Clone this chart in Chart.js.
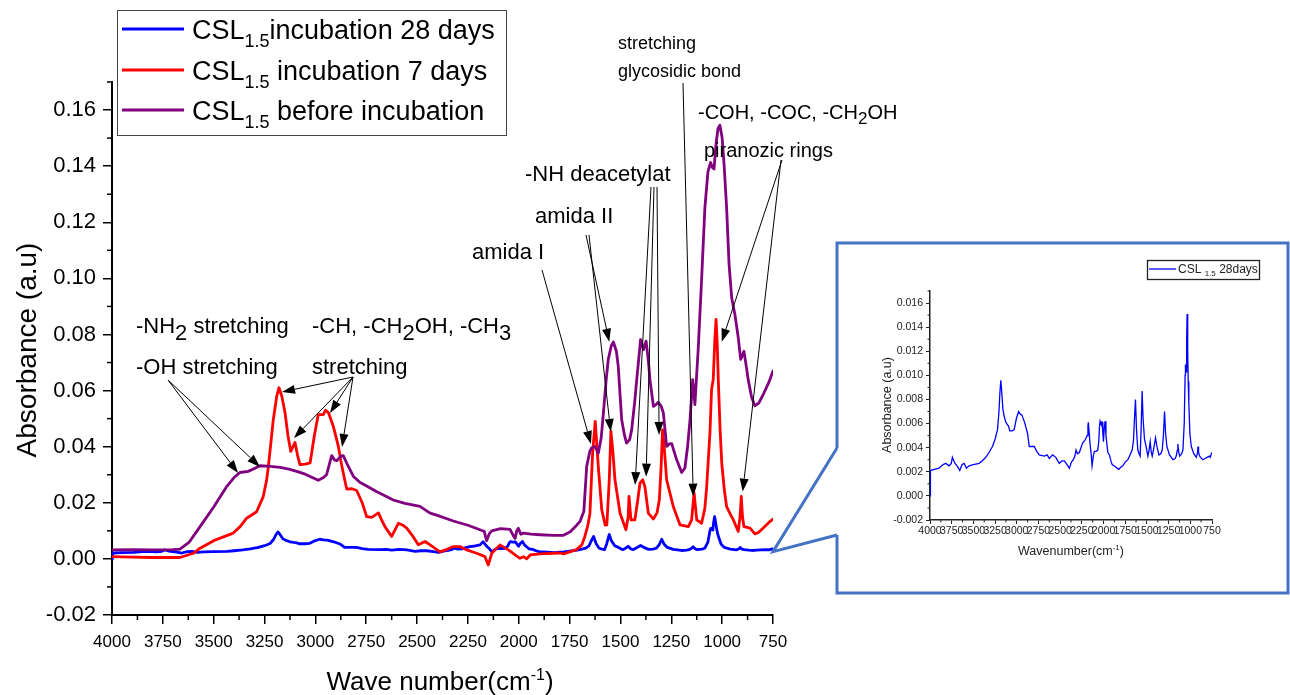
<!DOCTYPE html>
<html><head><meta charset="utf-8">
<script src="https://cdn.jsdelivr.net/npm/chart.js@4.4.1/dist/chart.umd.min.js"></script>
<style>
html,body{margin:0;padding:0;background:#fff;}
#wrap{position:relative;width:1290px;height:695px;overflow:hidden;background:#fff;}
#main{position:absolute;left:0;top:0;width:1290px;height:695px;}
#inset{position:absolute;left:839px;top:245px;width:447px;height:346px;}
</style></head><body>
<div id="wrap"><canvas id="main" width="1290" height="695"></canvas><canvas id="inset" width="447" height="346"></canvas></div>
<script>
// ---------------- DATA ----------------
const seriesNames = ['CSL_{1.5}incubation 28 days', 'CSL_{1.5} incubation 7 days', 'CSL_{1.5} before incubation'];
const insetName = 'CSL _{1.5} 28days';

// before incubation (purple)
const wn0 = [4000,3900,3800,3700,3666,3620,3567,3500,3436,3400,
 3371,3330,3300,3272,3220,3174,3130,3092,3050,3026,
 2986,2960,2945,2920,2905,2895,2875,2863,2845,2813,
 2780,2748,2700,2617,2560,2486,2436,2400,2322,2250,
 2191,2170,2158,2145,2133,2090,2043,2025,2018,2010,
 2002,1990,1977,1940,1895,1830,1780,1747,1714,1698,
 1680,1666,1650,1642,1625,1609,1595,1584,1570,1560,
 1545,1535,1520,1511,1494,1480,1470,1455,1445,1430,
 1420,1401,1387,1374,1362,1355,1338,1325,1314,1300,
 1289,1273,1260,1248,1235,1224,1199,1183,1170,1158,
 1145,1134,1117,1101,1085,1070,1057,1048,1040,1030,
 1020,1011,1000,990,978,966,953,937,921,909,
 893,880,872,855,839,820,798,770,750];
const abs0 = [0.0032,0.0033,0.0032,0.0033,0.0035,0.0060,0.0115,0.0185,0.0258,0.0290,
 0.0308,0.0312,0.0322,0.0332,0.0330,0.0326,0.0320,0.0312,0.0302,0.0294,
 0.0280,0.0290,0.0300,0.0368,0.0352,0.0350,0.0366,0.0368,0.0340,0.0294,
 0.0272,0.0260,0.0240,0.0210,0.0198,0.0187,0.0163,0.0155,0.0135,0.0120,
 0.0104,0.0098,0.0065,0.0090,0.0100,0.0108,0.0105,0.0080,0.0073,0.0100,
 0.0109,0.0088,0.0092,0.0088,0.0086,0.0084,0.0084,0.0097,0.0121,0.0135,
 0.0170,0.0330,0.0385,0.0395,0.0401,0.0377,0.0430,0.0520,0.0640,0.0711,
 0.0760,0.0773,0.0740,0.0687,0.0496,0.0440,0.0413,0.0425,0.0460,0.0560,
 0.0639,0.0782,0.0746,0.0776,0.0700,0.0639,0.0544,0.0550,0.0558,0.0545,
 0.0520,0.0401,0.0410,0.0411,0.0380,0.0354,0.0308,0.0324,0.0400,0.0496,
 0.0639,0.0550,0.0758,0.0996,0.1250,0.1380,0.1413,0.1395,0.1390,0.1480,
 0.1535,0.1546,0.1500,0.1400,0.1250,0.1050,0.0930,0.0870,0.0790,0.0711,
 0.0740,0.0680,0.0639,0.0575,0.0546,0.0555,0.0586,0.0630,0.0670];

// incubation 7 days (red)
const wn7 = [4000,3900,3800,3666,3600,3567,3500,3404,3370,3338,
 3289,3256,3240,3231,3207,3190,3179,3165,3149,3135,
 3121,3110,3100,3088,3076,3050,3026,3005,2986,2961,
 2950,2945,2935,2912,2887,2875,2863,2846,2820,2797,
 2770,2748,2723,2690,2675,2658,2625,2592,2570,2551,
 2520,2494,2461,2436,2387,2350,2322,2289,2256,2207,
 2166,2150,2133,2092,2051,2018,1994,1977,1961,1944,
 1896,1798,1780,1716,1690,1675,1660,1650,1637,1624,
 1609,1592,1575,1567,1555,1547,1537,1527,1502,1473,
 1462,1458,1452,1448,1429,1415,1404,1391,1380,1363,
 1338,1320,1309,1300,1293,1283,1273,1240,1207,1166,
 1150,1138,1125,1101,1085,1076,1060,1052,1044,1036,
 1030,1024,1019,1010,1002,990,978,960,945,921,
 912,906,900,893,863,839,820,798,770,750];
const abs7 = [0.0008,0.0006,0.0005,0.0005,0.0020,0.0038,0.0065,0.0092,0.0115,0.0145,
 0.0168,0.0223,0.0280,0.0330,0.0496,0.0580,0.0610,0.0580,0.0520,0.0440,
 0.0383,0.0400,0.0415,0.0370,0.0336,0.0338,0.0342,0.0440,0.0514,0.0514,
 0.0530,0.0527,0.0520,0.0473,0.0401,0.0350,0.0306,0.0249,0.0250,0.0244,
 0.0200,0.0151,0.0148,0.0164,0.0140,0.0115,0.0080,0.0127,0.0120,0.0110,
 0.0080,0.0050,0.0062,0.0050,0.0025,0.0035,0.0044,0.0044,0.0032,0.0020,
 0.0008,-0.0022,0.0020,0.0050,0.0032,0.0014,0.0002,0.0008,0.0000,0.0014,
 0.0018,0.0021,0.0018,0.0033,0.0050,0.0080,0.0120,0.0163,0.0377,0.0490,
 0.0330,0.0175,0.0120,0.0121,0.0282,0.0455,0.0380,0.0282,0.0163,0.0104,
 0.0150,0.0223,0.0170,0.0139,0.0139,0.0210,0.0270,0.0282,0.0258,0.0163,
 0.0142,0.0165,0.0210,0.0330,0.0460,0.0380,0.0282,0.0186,0.0121,0.0115,
 0.0139,0.0235,0.0139,0.0127,0.0180,0.0258,0.0450,0.0604,0.0639,0.0780,
 0.0854,0.0760,0.0639,0.0460,0.0342,0.0250,0.0186,0.0160,0.0139,0.0098,
 0.0150,0.0223,0.0150,0.0115,0.0110,0.0089,0.0095,0.0110,0.0130,0.0142];

// incubation 28 days (blue) - also shown in the inset
const wn28 = [4000,3998,3992,3950,3896,3850,3819,3780,3755,3742,
 3725,3711,3680,3657,3630,3607,3580,3549,3500,3434,
 3400,3357,3320,3280,3250,3222,3205,3195,3184,3175,
 3160,3145,3125,3107,3095,3080,3050,3030,3005,2979,
 2960,2941,2910,2876,2856,2830,2798,2770,2741,2683,
 2650,2625,2587,2550,2510,2480,2452,2420,2394,2370,
 2348,2330,2317,2300,2279,2260,2240,2215,2202,2190,
 2180,2175,2165,2155,2143,2132,2118,2105,2085,2067,
 2055,2046,2040,2030,2017,2008,2001,1993,1982,1972,
 1963,1950,1932,1915,1901,1860,1824,1800,1778,1750,
 1720,1695,1670,1655,1645,1632,1620,1605,1590,1578,
 1567,1555,1545,1528,1510,1489,1475,1462,1450,1439,
 1420,1401,1385,1362,1340,1324,1310,1297,1285,1270,
 1240,1200,1175,1162,1150,1143,1133,1123,1100,1085,
 1070,1060,1056,1046,1042,1037,1030,1024,1017,1005,
 989,960,931,916,911,905,892,870,854,830,
 808,780,770,758,750];
const abs28 = [0.0000,0.0021,0.0021,0.0022,0.0023,0.0026,0.0027,0.0025,0.0027,0.0032,
 0.0029,0.0027,0.0024,0.0021,0.0026,0.0027,0.0023,0.0025,0.0026,0.0027,
 0.0029,0.0032,0.0036,0.0041,0.0047,0.0055,0.0070,0.0085,0.0096,0.0088,
 0.0072,0.0066,0.0061,0.0059,0.0058,0.0054,0.0054,0.0055,0.0064,0.0070,
 0.0068,0.0067,0.0061,0.0052,0.0041,0.0041,0.0041,0.0037,0.0034,0.0033,
 0.0034,0.0031,0.0034,0.0032,0.0027,0.0029,0.0029,0.0026,0.0023,0.0028,
 0.0030,0.0033,0.0038,0.0035,0.0036,0.0040,0.0044,0.0046,0.0048,0.0050,
 0.0058,0.0061,0.0052,0.0043,0.0035,0.0025,0.0033,0.0037,0.0037,0.0038,
 0.0045,0.0058,0.0062,0.0060,0.0061,0.0052,0.0045,0.0055,0.0062,0.0050,
 0.0044,0.0036,0.0034,0.0029,0.0026,0.0024,0.0022,0.0024,0.0025,0.0028,
 0.0030,0.0034,0.0038,0.0046,0.0062,0.0080,0.0055,0.0038,0.0035,0.0033,
 0.0055,0.0087,0.0065,0.0047,0.0041,0.0033,0.0038,0.0045,0.0036,0.0033,
 0.0040,0.0048,0.0041,0.0034,0.0035,0.0038,0.0050,0.0070,0.0052,0.0041,
 0.0034,0.0030,0.0031,0.0033,0.0038,0.0043,0.0036,0.0033,0.0035,0.0038,
 0.0060,0.0100,0.0109,0.0103,0.0130,0.0151,0.0120,0.0095,0.0077,0.0052,
 0.0041,0.0035,0.0032,0.0036,0.0041,0.0036,0.0033,0.0031,0.0030,0.0031,
 0.0032,0.0033,0.0032,0.0035,0.0036];

// axis ranges / ticks
const xRange = [750, 4000], xStep = 250;
const yRange = [-0.02, 0.17], yStep = 0.02;
const insetYRange = [-0.002, 0.017], insetYStep = 0.002;

// annotations: text (pixel layout) and arrows (tail in pixels, tip at a spectrum point [wn, abs])
const notes = [
  {t:'-NH_{2} stretching', x:136, y:333, size:22, sub:22, dy:7},
  {t:'-OH stretching', x:136, y:374, size:22},
  {t:'-CH, -CH_{2}OH, -CH_{3}', x:312, y:333, size:22, sub:22, dy:7},
  {t:'stretching', x:312, y:374, size:22},
  {t:'stretching', x:618, y:49, size:18},
  {t:'glycosidic bond', x:618, y:77, size:18},
  {t:'-COH, -COC, -CH_{2}OH', x:698, y:119, size:20, sub:17, dy:5},
  {t:'piranozic rings', x:704, y:157, size:20},
  {t:'-NH deacetylat', x:525, y:181, size:22},
  {t:'amida II', x:535, y:223, size:22},
  {t:'amida I', x:472, y:259, size:22}
];
const arrows = [
  {from:[168,380], to:[3380,0.0306]}, {from:[168,380], to:[3272,0.0328]},
  {from:[353,377], to:[3164,0.0595]}, {from:[353,377], to:[3105,0.0431]},
  {from:[353,377], to:[2928,0.0520]}, {from:[353,377], to:[2869,0.0399]},
  {from:[542,270], to:[1645,0.0410]},
  {from:[586,235], to:[1555,0.0774]}, {from:[589,235], to:[1548,0.0453]},
  {from:[651,187], to:[1428,0.0263]}, {from:[654,187], to:[1374,0.0293]}, {from:[657,187], to:[1310,0.0442]},
  {from:[683,83], to:[1142,0.0222]},
  {from:[782,160], to:[1002,0.0774]}, {from:[781,160], to:[899,0.0240]}
];

// ---------------- RENDER ----------------
const FONT = "'Liberation Sans', Arial, Helvetica, sans-serif";
Chart.defaults.font.family = FONT;
Chart.defaults.color = '#000';

function series(wn, ab){ const n=Math.min(wn.length, ab.length); const out=[]; for(let i=0;i<n;i++) out.push({x:wn[i], y:ab[i]}); return out; }

function parseRich(s){
  const out=[]; const re=/([_^])\{([^}]*)\}/g; let last=0, m;
  while((m=re.exec(s))){ if(m.index>last) out.push({t:s.slice(last,m.index),m:0}); out.push({t:m[2], m:m[1]==='_'?1:2}); last=re.lastIndex; }
  if(last<s.length) out.push({t:s.slice(last),m:0});
  return out;
}
function drawRich(ctx, s, x, y, o){
  const parts=parseRich(s);
  const fs = p => p.m===0 ? o.size : (p.m===1 ? (o.sub||o.size*0.7) : (o.sup||o.size*0.6));
  let w=0;
  parts.forEach(p=>{ ctx.font = fs(p)+'px '+FONT; p.w=ctx.measureText(p.t).width; w+=p.w; });
  let cx = o.align==='center' ? x-w/2 : x;
  parts.forEach(p=>{
    ctx.font = fs(p)+'px '+FONT;
    const dy = p.m===0 ? 0 : (p.m===1 ? (o.dy!=null?o.dy:o.size*0.3) : -(o.udy!=null?o.udy:o.size*0.4));
    ctx.fillText(p.t, cx, y+dy); cx += p.w;
  });
  return w;
}

function arrow(ctx, x0,y0,x1,y1, len, hw){
  const a=Math.atan2(y1-y0,x1-x0);
  const bx=x1-len*Math.cos(a), by=y1-len*Math.sin(a);
  ctx.beginPath(); ctx.moveTo(x0,y0); ctx.lineTo(bx,by); ctx.stroke();
  ctx.beginPath(); ctx.moveTo(x1,y1);
  ctx.lineTo(bx+hw*Math.sin(a), by-hw*Math.cos(a));
  ctx.lineTo(bx-hw*Math.sin(a), by+hw*Math.cos(a));
  ctx.closePath(); ctx.fill();
}

const mainDecor = {
  id:'mainDecor',
  afterDraw(chart){
    const ctx=chart.ctx, x=chart.scales.x, y=chart.scales.y, ca=chart.chartArea;
    ctx.save();
    ctx.strokeStyle='#000'; ctx.lineWidth=1.5;
    for(let i=-1;i<=17;i+=2){ const py=y.getPixelForValue(i/100); ctx.beginPath(); ctx.moveTo(ca.left-5,py); ctx.lineTo(ca.left,py); ctx.stroke(); }
    for(let v=xRange[0]+xStep/2; v<xRange[1]; v+=xStep){ const px=x.getPixelForValue(v); ctx.beginPath(); ctx.moveTo(px,ca.bottom); ctx.lineTo(px,ca.bottom+5); ctx.stroke(); }
    ctx.fillStyle='#000'; ctx.textBaseline='alphabetic'; ctx.textAlign='left';
    drawRich(ctx, 'Wave number(cm^{-1})', 440, 690, {size:26, sup:16, udy:10, align:'center'});
    ctx.save(); ctx.translate(36,350); ctx.rotate(-Math.PI/2);
    drawRich(ctx, 'Absorbance (a.u)', 0, 0, {size:28, align:'center'});
    ctx.restore();
    // legend
    ctx.fillStyle='#fff'; ctx.fillRect(118,10,389,125);
    ctx.strokeStyle='#444'; ctx.lineWidth=1; ctx.strokeRect(117.5,10.5,389,125);
    const cols=['#0000ff','#ff0000','#800080']; const rows=[29,70,110];
    for(let i=0;i<3;i++){
      ctx.strokeStyle=cols[i]; ctx.lineWidth=3; ctx.beginPath(); ctx.moveTo(122,rows[i]); ctx.lineTo(184,rows[i]); ctx.stroke();
      ctx.fillStyle='#000'; drawRich(ctx, seriesNames[i], 192, rows[i]+10, {size:27, sub:18, dy:8});
    }
    // annotations
    ctx.fillStyle='#000';
    notes.forEach(n=>drawRich(ctx, n.t, n.x, n.y, {size:n.size, sub:n.sub, dy:n.dy}));
    ctx.strokeStyle='#000'; ctx.lineWidth=1;
    arrows.forEach(a=>arrow(ctx, a.from[0], a.from[1], x.getPixelForValue(a.to[0]), y.getPixelForValue(a.to[1]), 13, 4.5));
    // inset frame and connectors
    const ox=x.getPixelForValue(xRange[0]), oy=y.getPixelForValue(0.0026);
    ctx.strokeStyle='#4472C4'; ctx.lineWidth=3; ctx.lineJoin='miter';
    ctx.beginPath(); ctx.moveTo(837,448); ctx.lineTo(837,243); ctx.lineTo(1288,243); ctx.lineTo(1288,593); ctx.lineTo(837,593); ctx.lineTo(837,535); ctx.stroke();
    ctx.beginPath(); ctx.moveTo(837,448); ctx.lineTo(ox,oy); ctx.lineTo(837,535); ctx.stroke();
    ctx.restore();
  }
};

const axisCommon = (c, w, tl) => ({grid:{drawOnChartArea:false, color:c, lineWidth:w, tickLength:tl}, border:{display:true, color:c, width:w+0.5}});

new Chart(document.getElementById('main'), {
  type:'line',
  data:{datasets:[
    {label:'before', data:series(wn0,abs0), borderColor:'#800080', borderWidth:2.8},
    {label:'7d', data:series(wn7,abs7), borderColor:'#ff0000', borderWidth:2.8},
    {label:'28d', data:series(wn28,abs28), borderColor:'#0000ff', borderWidth:2.8}
  ]},
  options:{
    responsive:false, animation:false, devicePixelRatio:1,
    layout:{padding:{left:0, top:82, right:517, bottom:0}},
    elements:{point:{radius:0}, line:{tension:0, borderJoinStyle:'round', borderCapStyle:'round'}},
    plugins:{legend:{display:false}, tooltip:{enabled:false}},
    scales:{
      x:Object.assign({type:'linear', reverse:true, min:xRange[0], max:xRange[1],
        afterFit(s){ s.height=80; },
        ticks:{stepSize:xStep, autoSkip:false, maxRotation:0, minRotation:0, padding:8, includeBounds:false, font:{size:17}, color:'#000', callback:v=>String(v)}
      }, axisCommon('#000',1.5,9)),
      y:Object.assign({type:'linear', min:yRange[0], max:yRange[1],
        afterFit(s){ s.width=112; },
        ticks:{stepSize:yStep, padding:7, includeBounds:false, font:{size:22}, color:'#000', callback:v=>Math.abs(v)<1e-9?'0.00':v.toFixed(2)}
      }, axisCommon('#000',1.5,9))
    }
  },
  plugins:[mainDecor]
});

const insetDecor = {
  id:'insetDecor',
  afterDraw(chart){
    const ctx=chart.ctx, x=chart.scales.x, y=chart.scales.y, ca=chart.chartArea;
    ctx.save();
    ctx.strokeStyle='#222'; ctx.lineWidth=1;
    for(let i=-1;i<=17;i+=2){ const py=y.getPixelForValue(i/1000); ctx.beginPath(); ctx.moveTo(ca.left-2.5,py); ctx.lineTo(ca.left,py); ctx.stroke(); }
    for(let v=xRange[0]+xStep/2; v<xRange[1]; v+=xStep){ const px=x.getPixelForValue(v); ctx.beginPath(); ctx.moveTo(px,ca.bottom); ctx.lineTo(px,ca.bottom+2.5); ctx.stroke(); }
    ctx.fillStyle='#222'; ctx.textBaseline='alphabetic'; ctx.textAlign='left';
    drawRich(ctx, 'Wavenumber(cm^{-1})', 232, 310, {size:12.5, sup:8, udy:5, align:'center'});
    ctx.save(); ctx.translate(52,160); ctx.rotate(-Math.PI/2);
    drawRich(ctx, 'Absorbance (a.u)', 0, 0, {size:12.5, align:'center'});
    ctx.restore();
    ctx.strokeStyle='#222'; ctx.lineWidth=1.3; ctx.strokeRect(308.5,15.5,112,19);
    ctx.strokeStyle='#0000ff'; ctx.lineWidth=1.3; ctx.beginPath(); ctx.moveTo(310,24); ctx.lineTo(337,24); ctx.stroke();
    drawRich(ctx, insetName, 339, 28, {size:12, sub:8, dy:3});
    ctx.restore();
  }
};

new Chart(document.getElementById('inset'), {
  type:'line',
  data:{datasets:[{label:'28d', data:series(wn28,abs28), borderColor:'#0000ff', borderWidth:1.3}]},
  options:{
    responsive:false, animation:false, devicePixelRatio:1,
    layout:{padding:{left:0, top:46, right:74, bottom:0}},
    elements:{point:{radius:0}, line:{tension:0}},
    plugins:{legend:{display:false}, tooltip:{enabled:false}},
    scales:{
      x:Object.assign({type:'linear', reverse:true, min:xRange[0], max:xRange[1],
        afterFit(s){ s.height=71; },
        ticks:{stepSize:xStep, autoSkip:false, maxRotation:0, minRotation:0, padding:1, includeBounds:false, font:{size:10.5}, color:'#222', callback:v=>String(v)}
      }, axisCommon('#222',1,4)),
      y:Object.assign({type:'linear', min:insetYRange[0], max:insetYRange[1],
        afterFit(s){ s.width=91; },
        ticks:{stepSize:insetYStep, padding:3, includeBounds:false, font:{size:10.5}, color:'#222', callback:v=>Math.abs(v)<1e-9?'0.000':v.toFixed(3)}
      }, axisCommon('#222',1,4))
    }
  },
  plugins:[insetDecor]
});
</script></body></html>
